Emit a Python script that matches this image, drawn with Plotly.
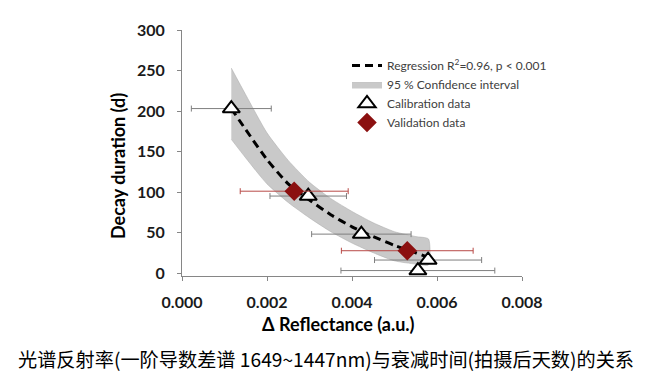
import plotly.graph_objects as go

# ---- data ----
reg_x = [0.00116, 0.0015, 0.002, 0.0025, 0.003, 0.0035, 0.004, 0.0045, 0.005, 0.0055, 0.0058]
reg_y = [203, 177, 140, 110, 90, 72, 57, 45, 34, 25, 19]

ci_x = [0.00116, 0.0015, 0.002, 0.0025, 0.003, 0.0035, 0.004, 0.0045, 0.005, 0.0055, 0.0058]
ci_upper = [253, 220, 173, 139, 112, 92, 76, 62, 51, 45, 42]
ci_lower = [165, 142, 110, 87, 68, 51, 37, 25, 15, 11, 10]

cal_x = [0.00116, 0.00297, 0.00422, 0.00579, 0.00555]
cal_y = [203, 95, 48, 16, 3]
cal_err = [0.00094, 0.00090, 0.00117, 0.00126, 0.00181]

val_x = [0.00264, 0.00530]
val_y = [101, 27.5]
val_err = [0.00127, 0.00155]

x_ticks = [0.000, 0.002, 0.004, 0.006, 0.008]
x_ticklabels = ["0.000", "0.002", "0.004", "0.006", "0.008"]
y_ticks = [0, 50, 100, 150, 200, 250, 300]

FONT = "Lato"
L, R, T, B = 174, 514, 22, 268
PW, PH = R - L, B - T

fig = go.Figure()

# confidence band
fig.add_trace(go.Scatter(
    x=ci_x + ci_x[::-1], y=ci_upper + ci_lower[::-1],
    fill="toself", fillcolor="#c9c9c9", mode="lines",
    line=dict(color="#a8a8a8", width=0.5, shape="spline", smoothing=0.6),
    name="95 % Confidence interval", legendrank=2, hoverinfo="skip"))

# regression line
fig.add_trace(go.Scatter(
    x=reg_x, y=reg_y, mode="lines",
    line=dict(color="black", width=3, dash="8px,5px", shape="spline", smoothing=0.6),
    name="Regression R<sup>2</sup>=0.96, p < 0.001", legendrank=1))

# calibration data
fig.add_trace(go.Scatter(
    x=cal_x, y=cal_y, mode="markers",
    marker=dict(symbol="triangle-up", size=15, color="white",
                line=dict(color="black", width=2)),
    error_x=dict(type="data", array=cal_err, color="#7f7f7f", thickness=1, width=3),
    name="Calibration data", legendrank=3))

# validation data
fig.add_trace(go.Scatter(
    x=val_x, y=val_y, mode="markers",
    marker=dict(symbol="diamond", size=15, color="#8b1010",
                line=dict(color="#8b1010", width=0)),
    error_x=dict(type="data", array=val_err, color="#b84a47", thickness=1, width=3),
    name="Validation data", legendrank=4))

axis_common = dict(
    showgrid=False, zeroline=False, showline=True, linecolor="#868686", linewidth=1,
    ticks="outside", ticklen=4, tickcolor="#868686", automargin=False,
    tickfont=dict(family=FONT, size=16, color="#1a1a1a", weight="bold"),
)

fig.update_xaxes(range=[0, 0.008], tickvals=x_ticks, ticktext=x_ticklabels,
                 ticklabelstandoff=8, tickangle=0, **axis_common)
fig.update_yaxes(range=[-3.7, 300], tickvals=y_ticks, ticklabelstandoff=9, **axis_common)

fig.update_layout(
    width=650, height=377,
    margin=dict(l=L, r=650 - R, t=T, b=377 - B, pad=0, autoexpand=False),
    plot_bgcolor="white", paper_bgcolor="white",
    showlegend=True,
    legend=dict(x=(339 - L) / PW, y=(B - 43) / PH,
                xanchor="left", yanchor="top",
                font=dict(family=FONT, size=12, color="#404040"),
                bgcolor="rgba(0,0,0,0)", tracegroupgap=0),
    annotations=[
        dict(text="Decay duration (d)", xref="paper", yref="paper",
             x=(110 - L) / PW, y=(B - 158) / PH, textangle=-90,
             showarrow=False, xanchor="center", yanchor="middle",
             font=dict(family=FONT, size=18, color="black", weight="bold")),
        dict(text="Δ Reflectance (a.u.)", xref="paper", yref="paper",
             x=(330 - L) / PW, y=-(316 - B) / PH,
             showarrow=False, xanchor="center", yanchor="middle",
             font=dict(family=FONT, size=18, color="black", weight="bold")),
        dict(text="光谱反射率(一阶导数差谱 1649~1447nm)与衰减时间(拍摄后天数)的关系",
             xref="paper", yref="paper",
             x=(318 - L) / PW, y=-(351 - B) / PH,
             showarrow=False, xanchor="center", yanchor="middle",
             font=dict(family="Noto Sans CJK SC", size=19.2, color="black")),
    ],
)

fig.write_html("out.html")
